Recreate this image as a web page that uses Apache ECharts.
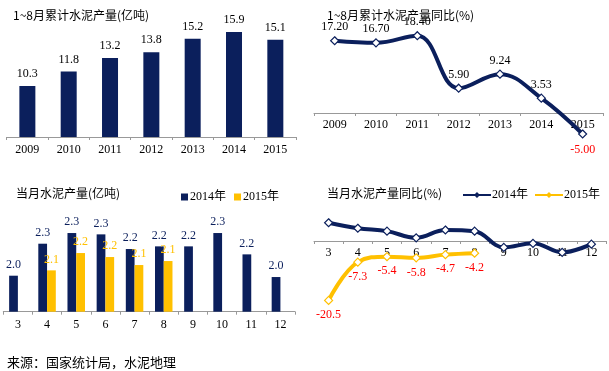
<!DOCTYPE html>
<html><head><meta charset="utf-8">
<script src="https://cdn.jsdelivr.net/npm/echarts@6/dist/echarts.min.js"></script>
<style>html,body{margin:0;padding:0;background:#fff}#c{width:609px;height:371px}</style>
</head><body><div id="c"></div>
<script>
// ---- data ----
var years = ['2009','2010','2011','2012','2013','2014','2015'];
var cumOutput = [10.3, 11.8, 13.2, 13.8, 15.2, 15.9, 15.1];
var cumYoY = [17.20, 16.70, 18.40, 5.90, 9.24, 3.53, -5.00];
var months = ['3','4','5','6','7','8','9','10','11','12'];
var monthly2014 = [2.02, 2.26, 2.34, 2.33, 2.22, 2.24, 2.24, 2.34, 2.18, 2.01];
var monthly2015 = [null, 2.06, 2.19, 2.16, 2.10, 2.13, null, null, null, null];
var yoy2014 = [6.3, 4.4, 3.4, 1.1, 3.8, 3.4, -2.2, -0.8, -3.9, -1.1];
var yoy2015 = [-20.5, -7.3, -5.4, -5.8, -4.7, -4.2, null, null, null, null];

var NAVY = '#0B1F5C', GOLD = '#FFC000', RED = '#FF0000';
var SERIF = '"Liberation Serif","Times New Roman","Noto Sans CJK SC",serif';
var CJK = '"Noto Sans CJK SC","Noto Sans",sans-serif';
var axisLine = {onZero:false, lineStyle:{color:'#999',width:1}};
var axisTick = {show:true, length:3, lineStyle:{color:'#999'}};
function xAx(gi, data, margin){
  return {type:'category', gridIndex:gi, data:data, boundaryGap:true, z:1,
    axisLine:axisLine, axisTick:axisTick,
    axisLabel:{color:'#000', fontFamily:SERIF, fontSize:12, margin:margin}};
}
function yAx(gi, min, max){
  return {type:'value', gridIndex:gi, min:min, max:max, show:false, splitLine:{show:false}};
}
// label offsets for the 2015 monthly YoY labels (style only)
var yoy15LabelOffset = [[0,0],[6,0],[0,2],[-3,0],[0,0],[6,-4]];
var chart = echarts.init(document.getElementById('c'));
chart.setOption({
  animation:false,
  title:[
    {text:'1~8月累计水泥产量(亿吨)', left:8, top:4, textStyle:{fontFamily:CJK, fontSize:12, fontWeight:'normal', color:'#000'}},
    {text:'1~8月累计水泥产量同比(%)', left:322, top:4, textStyle:{fontFamily:CJK, fontSize:12, fontWeight:'normal', color:'#000'}},
    {text:'当月水泥产量(亿吨)', left:11, top:182, textStyle:{fontFamily:CJK, fontSize:12, fontWeight:'normal', color:'#000'}},
    {text:'当月水泥产量同比(%)', left:322, top:182, textStyle:{fontFamily:CJK, fontSize:12, fontWeight:'normal', color:'#000'}},
    {text:'来源：国家统计局，水泥地理', left:2, top:351, textStyle:{fontFamily:CJK, fontSize:13, fontWeight:'normal', color:'#000'}}
  ],
  legend:[
    {data:['2014年','2015年'], left:176, top:186, itemWidth:7, itemHeight:7, itemGap:8,
     icon:'rect', textStyle:{fontFamily:SERIF, fontSize:12, color:'#000', padding:[0,0,0,-3]},
     selectedMode:false},
    {data:['同比2014年','同比2015年'], left:457, top:184, itemWidth:28, itemHeight:4, itemGap:6,
     textStyle:{fontFamily:SERIF, fontSize:12, color:'#000', padding:[0,0,0,-4]},
     selectedMode:false, formatter:function(n){return n.replace('同比','');}}
  ],
  grid:[
    {left:6.7, width:289.3, top:11.7, height:125.3},
    {left:314, width:289.3, top:29, height:84},
    {left:3.3, width:291.7, top:211.7, height:100},
    {left:314, width:292, top:212, height:29}
  ],
  xAxis:[xAx(0, years, 7), xAx(1, years, 6), xAx(2, months, 7), xAx(3, months, 6)],
  yAxis:[yAx(0, 5, 18), yAx(1, 0, 20), yAx(2, 1.75, 2.5), yAx(3, 0, 10)],
  series:[
    {type:'bar', xAxisIndex:0, yAxisIndex:0, data:cumOutput, barWidth:16,
     itemStyle:{color:NAVY},
     label:{show:true, position:'top', distance:6, color:'#000', fontFamily:SERIF, fontSize:12,
       formatter:function(p){return p.value.toFixed(1);}}},
    {type:'line', xAxisIndex:1, yAxisIndex:1, smooth:0.4, clip:false, z:3,
     lineStyle:{color:NAVY, width:4}, itemStyle:{color:'#fff', borderColor:NAVY, borderWidth:1.2},
     symbol:'diamond', symbolSize:8, showAllSymbol:true,
     label:{show:true, position:'top', distance:3, color:'#000', fontFamily:SERIF, fontSize:12,
       formatter:function(p){return p.value.toFixed(2);}},
     labelLayout:{hideOverlap:false},
     data:cumYoY.map(function(v){ return v<0 ? {value:v, label:{position:'bottom', color:RED, distance:5}} : v; })},
    {type:'bar', name:'2014年', xAxisIndex:2, yAxisIndex:2, data:monthly2014, barGap:'0%', barCategoryGap:'40%',
     itemStyle:{color:NAVY},
     label:{show:true, position:'top', distance:5, color:NAVY, fontFamily:SERIF, fontSize:12,
       formatter:function(p){return p.value.toFixed(1);}}},
    {type:'bar', name:'2015年', xAxisIndex:2, yAxisIndex:2, data:monthly2015, barGap:'0%', barCategoryGap:'40%',
     itemStyle:{color:GOLD},
     label:{show:true, position:'top', distance:5, color:GOLD, fontFamily:SERIF, fontSize:12,
       formatter:function(p){return p.value==null?'':p.value.toFixed(1);}}},
    {type:'line', name:'同比2014年', xAxisIndex:3, yAxisIndex:3, data:yoy2014, smooth:0.4, clip:false, z:3,
     lineStyle:{color:NAVY, width:4}, itemStyle:{color:'#fff', borderColor:NAVY, borderWidth:1.2},
     symbol:'diamond', symbolSize:8, showAllSymbol:true},
    {type:'line', name:'同比2015年', xAxisIndex:3, yAxisIndex:3, smooth:0.4, clip:false, z:3,
     lineStyle:{color:GOLD, width:4}, itemStyle:{color:'#fff', borderColor:GOLD, borderWidth:1.2},
     symbol:'diamond', symbolSize:8, showAllSymbol:true, connectNulls:false,
     labelLayout:{hideOverlap:false},
     label:{show:true, position:'bottom', distance:4, color:RED, fontFamily:SERIF, fontSize:12,
       formatter:function(p){return p.value==null?'':p.value.toFixed(1);}},
     data:yoy2015.map(function(v,i){ return (v!=null && yoy15LabelOffset[i]) ? {value:v, label:{offset:yoy15LabelOffset[i]}} : v; })}
  ]
});
</script></body></html>
